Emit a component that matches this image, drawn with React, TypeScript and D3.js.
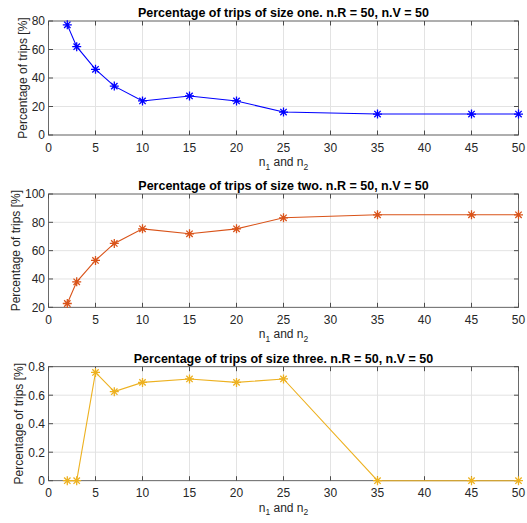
import * as d3 from "d3";
import { useRef, useEffect } from "react";

const width = 527;
const height = 523;
const plotLeft = 48.5;
const plotRight = 518.5;

const nValues = [2, 3, 5, 7, 10, 15, 20, 25, 35, 45, 50];
const sizeOne = [77.3, 62.0, 46.1, 34.3, 23.9, 27.4, 23.9, 16.1, 14.7, 14.7, 14.7];
const sizeTwo = [22.7, 38.0, 53.1, 65.1, 75.4, 71.9, 75.4, 83.2, 85.3, 85.3, 85.3];
const sizeThree = [0, 0, 0.76, 0.625, 0.69, 0.714, 0.69, 0.714, 0, 0, 0];

const xTicks = [0, 5, 10, 15, 20, 25, 30, 35, 40, 45, 50];
const yTicksOne = [0, 20, 40, 60, 80];
const yTicksTwo = [20, 40, 60, 80, 100];
const yTicksThree = [0, 0.2, 0.4, 0.6, 0.8];

const titles = [
  "Percentage of trips of size one. n.R = 50, n.V = 50",
  "Percentage of trips of size two. n.R = 50, n.V = 50",
  "Percentage of trips of size three. n.R = 50, n.V = 50",
];

const panels = [
  { values: sizeOne, ticks: yTicksOne, domain: [0, 80], color: "#0000ff", top: 21, bottom: 135, labelX: 26.5, title: titles[0] },
  { values: sizeTwo, ticks: yTicksTwo, domain: [20, 100], color: "#d95319", top: 194, bottom: 307.3, labelX: 20, title: titles[1] },
  { values: sizeThree, ticks: yTicksThree, domain: [0, 0.8], color: "#edb120", top: 366.7, bottom: 480.7, labelX: 22.5, title: titles[2] },
];

const font = "'Liberation Sans', Arial, Helvetica, sans-serif";
const textColor = "#262626";

export default function App() {
  const svgRef = useRef<SVGSVGElement>(null);

  useEffect(() => {
    const svg = d3.select(svgRef.current);
    svg.selectAll("*").remove();

    const x = d3.scaleLinear().domain([0, 50]).range([plotLeft, plotRight]);

    panels.forEach((p) => {
      const y = d3.scaleLinear().domain(p.domain).range([p.bottom, p.top]);
      const g = svg.append("g");

      g.append("rect")
        .attr("x", plotLeft).attr("y", p.top)
        .attr("width", plotRight - plotLeft).attr("height", p.bottom - p.top)
        .attr("fill", "#fff");

      // grid
      g.selectAll(".gx").data(xTicks).enter().append("line")
        .attr("x1", (d) => x(d)).attr("x2", (d) => x(d))
        .attr("y1", p.top).attr("y2", p.bottom)
        .attr("stroke", "#e3e3e3").attr("stroke-width", 1);
      g.selectAll(".gy").data(p.ticks).enter().append("line")
        .attr("x1", plotLeft).attr("x2", plotRight)
        .attr("y1", (d) => y(d)).attr("y2", (d) => y(d))
        .attr("stroke", "#e3e3e3").attr("stroke-width", 1);

      // ticks (inward, all four sides)
      const tl = 4.5;
      xTicks.forEach((t) => {
        g.append("line").attr("x1", x(t)).attr("x2", x(t)).attr("y1", p.bottom).attr("y2", p.bottom - tl)
          .attr("stroke", textColor).attr("stroke-width", 0.8);
        g.append("line").attr("x1", x(t)).attr("x2", x(t)).attr("y1", p.top).attr("y2", p.top + tl)
          .attr("stroke", textColor).attr("stroke-width", 0.8);
      });
      p.ticks.forEach((t) => {
        g.append("line").attr("x1", plotLeft).attr("x2", plotLeft + tl).attr("y1", y(t)).attr("y2", y(t))
          .attr("stroke", textColor).attr("stroke-width", 0.8);
        g.append("line").attr("x1", plotRight).attr("x2", plotRight - tl).attr("y1", y(t)).attr("y2", y(t))
          .attr("stroke", textColor).attr("stroke-width", 0.8);
      });

      // box
      g.append("rect")
        .attr("x", plotLeft).attr("y", p.top)
        .attr("width", plotRight - plotLeft).attr("height", p.bottom - p.top)
        .attr("fill", "none").attr("stroke", "#4d4d4d").attr("stroke-width", 0.8);

      // tick labels
      g.selectAll(".tx").data(xTicks).enter().append("text")
        .attr("x", (d) => x(d)).attr("y", p.bottom + 16.5)
        .attr("text-anchor", "middle")
        .attr("font-family", font).attr("font-size", 12).attr("fill", textColor)
        .text((d) => String(d));
      g.selectAll(".ty").data(p.ticks).enter().append("text")
        .attr("x", plotLeft - 3.5).attr("y", (d) => y(d) + 4.3)
        .attr("text-anchor", "end")
        .attr("font-family", font).attr("font-size", 12).attr("fill", textColor)
        .text((d) => String(d));

      // title
      g.append("text")
        .attr("x", (plotLeft + plotRight) / 2).attr("y", p.top - 3.7)
        .attr("text-anchor", "middle")
        .attr("font-family", font).attr("font-size", 12.5).attr("font-weight", "bold").attr("fill", "#000")
        .text(p.title);

      // y label
      g.append("text")
        .attr("transform", `translate(${p.labelX},${(p.top + p.bottom) / 2}) rotate(-90)`)
        .attr("text-anchor", "middle")
        .attr("font-family", font).attr("font-size", 12).attr("fill", textColor)
        .text("Percentage of trips [%]");

      // x label with subscripts
      const xl = g.append("text")
        .attr("x", (plotLeft + plotRight) / 2).attr("y", p.bottom + 31)
        .attr("text-anchor", "middle")
        .attr("font-family", font).attr("font-size", 12).attr("fill", textColor);
      xl.append("tspan").text("n");
      xl.append("tspan").attr("dy", 3.5).attr("font-size", 8.5).text("1");
      xl.append("tspan").attr("dy", -3.5).text(" and n");
      xl.append("tspan").attr("dy", 3.5).attr("font-size", 8.5).text("2");

      // series line
      const pts = nValues.map((n, i) => [n, p.values[i]] as [number, number]);
      const line = d3.line<[number, number]>().x((d) => x(d[0])).y((d) => y(d[1]));
      g.append("path").attr("d", line(pts) || "")
        .attr("fill", "none").attr("stroke", p.color).attr("stroke-width", 1.1);

      // asterisk markers
      const a = 4.5;
      const b = 3.2;
      const star = `M${-a},0L${a},0M0,${-a}L0,${a}M${-b},${-b}L${b},${b}M${-b},${b}L${b},${-b}`;
      g.selectAll(".m").data(pts).enter().append("path")
        .attr("transform", (d) => `translate(${x(d[0])},${y(d[1])})`)
        .attr("d", star)
        .attr("fill", "none").attr("stroke", p.color).attr("stroke-width", 1.3);
    });
  }, []);

  return (
    <svg
      ref={svgRef}
      width={width}
      height={height}
      style={{ position: "absolute", left: 0, top: 0, background: "#fff" }}
    />
  );
}
